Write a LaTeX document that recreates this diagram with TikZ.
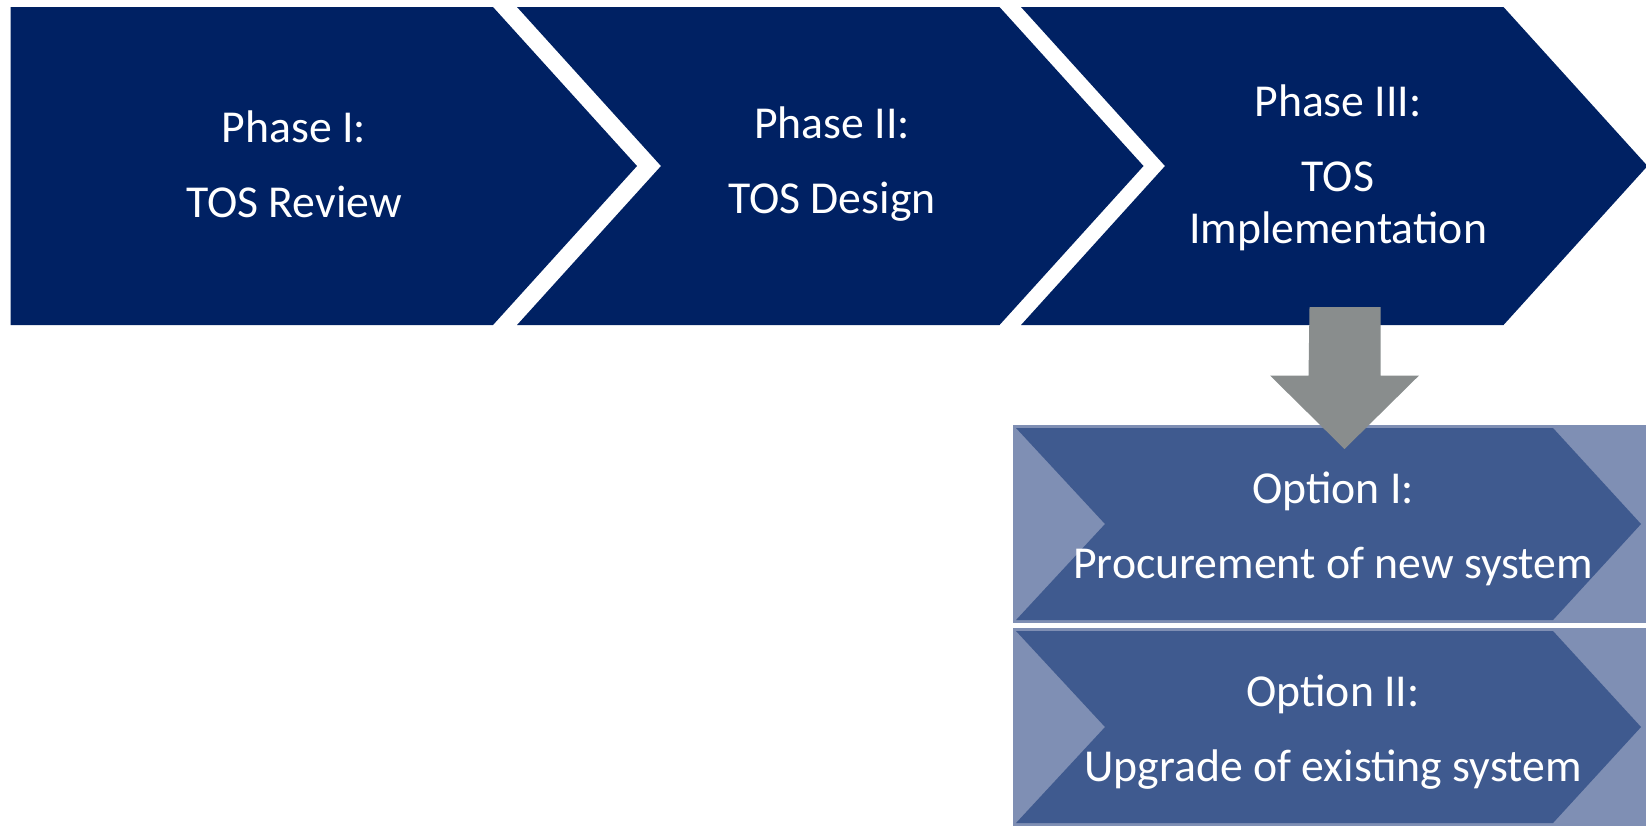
\documentclass[tikz,border=0pt]{standalone}
\usepackage{fontspec}
\setmainfont{Carlito}
\usetikzlibrary{positioning,calc}
\definecolor{phaseblue}{RGB}{0,33,99}
\definecolor{optdark}{RGB}{63,90,143}
\definecolor{optlight}{RGB}{127,143,180}
\definecolor{arrowgrey}{RGB}{137,141,141}
\tikzset{
	phase/.style={fill=phaseblue},
	optback/.style={fill=optlight},
	optfront/.style={fill=optdark},
	boxtext/.style={text=white, align=center, inner sep=0, font=\fontsize{13}{13}\selectfont},
	blockarrow/.style={fill=arrowgrey}
}

\begin{document}
\begin{tikzpicture}[x=0.01cm,y=-0.01cm]
	\useasboundingbox (0,0) rectangle (1646,826);
	%%%phases
	\foreach \l/\n/\tx/\ty/\nm/\txt in {10.5/0/294/164/p1/{Phase I:\\[8.3pt]TOS Review},
		517/144/832/164/p2/{Phase II:\\[8.3pt]TOS Design},
		1021/144/1338/168/p3/{Phase III:\\[8.3pt]TOS\\[1.8pt]Implementation}}{
		\fill[phase] (\l,7) -- ++(482.5,0) -- ++(144,159) -- ++(-144,159)
			-- ++(-482.5,0) -- ++(\n,-159) -- cycle;
		\node[boxtext] (\nm) at (\tx,\ty) {\txt};
	}

	%%%options
	\foreach \t/\nm/\txt in {425/o1/{Option I:\\[8.3pt]Procurement of new system},
		628/o2/{Option II:\\[8.3pt]Upgrade of existing system}}{
		\fill[optback] (1013,\t) rectangle ++(633,198);
		\fill[optfront] (1016,\t+3) -- ++(537,0) -- ++(88,96) -- ++(-88,96)
			-- ++(-537,0) -- ++(89,-96) -- cycle;
		\node[boxtext] (\nm) at (1333,\t+104) {\txt};
	}

	%%%arrow p3 -> o1
	\coordinate (a3) at (1345,307);
	\fill[blockarrow] (a3) ++(-35.5,0) -- ++(71,0) -- ++(0,68.5) -- ++(38.5,0)
		-- ++(-74.5,73.5) -- ++(-74.5,-73.5) -- ++(38.5,0) -- cycle;

\end{tikzpicture}
\end{document}
